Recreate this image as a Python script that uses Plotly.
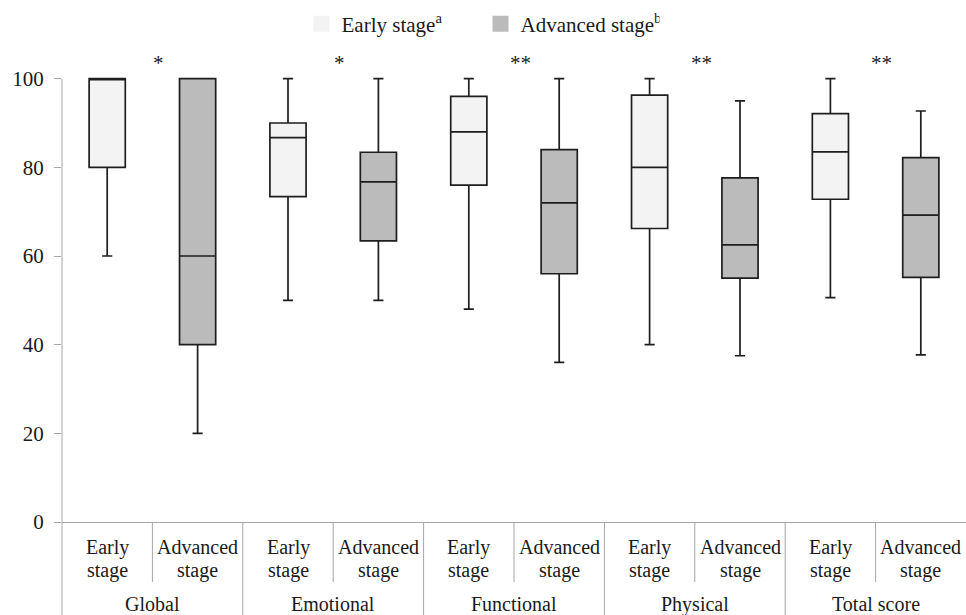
import plotly.graph_objects as go

# ---------------- data ----------------
groups = ["Global", "Emotional", "Functional", "Physical", "Total score"]
stage_names = ["Early stage<sup>a</sup>", "Advanced stage<sup>b</sup>"]
stage_lines = [["Early", "stage"], ["Advanced", "stage"]]
significance = ["*", "*", "**", "**", "**"]
y_ticks = [0, 20, 40, 60, 80, 100]

early_min = [60, 50, 48, 40, 50.6]
early_q1 = [80, 73.4, 76, 66.2, 72.8]
early_median = [100, 86.7, 88, 80, 83.5]
early_q3 = [100, 90, 96, 96.3, 92.1]
early_max = [100, 100, 100, 100, 100]

adv_min = [20, 50, 36, 37.5, 37.7]
adv_q1 = [40, 63.4, 56, 55, 55.2]
adv_median = [60, 76.7, 72, 62.5, 69.2]
adv_q3 = [100, 83.4, 84, 77.6, 82.2]
adv_max = [100, 100, 100, 95, 92.7]

# ---------------- layout geometry ----------------
W, H = 966, 615
ML, MR, MT, MB = 62, 0, 76, 93
PLOT_H = H - MT - MB          # 446
Y_TOP = 100.6
X_MIN, X_MAX = -0.5, 9.5
FONT = "Liberation Serif, Times New Roman, serif"
TXT = "#1a1a1a"
GRAY = "#a6a6a6"
EARLY_FILL = "#f3f3f3"
ADV_FILL = "#bbbbbb"
EDGE = "#1e1e1e"

n = len(groups)
early_x = [2 * i for i in range(n)]
adv_x = [2 * i + 1 for i in range(n)]


def xp(x):
    return (x - X_MIN) / (X_MAX - X_MIN)


def py(px):
    """pixel row -> paper y"""
    return (H - MB - px) / PLOT_H


def yval_paper(v):
    return v / Y_TOP


fig = go.Figure()

box_common = dict(boxpoints=False, width=0.4, whiskerwidth=0.28,
                  line=dict(color=EDGE, width=1.7), showlegend=False,
                  hoverinfo="y")

fig.add_trace(go.Box(x=early_x, q1=early_q1, median=early_median, q3=early_q3,
                     lowerfence=early_min, upperfence=early_max,
                     fillcolor=EARLY_FILL, name="Early stage", **box_common))
fig.add_trace(go.Box(x=adv_x, q1=adv_q1, median=adv_median, q3=adv_q3,
                     lowerfence=adv_min, upperfence=adv_max,
                     fillcolor=ADV_FILL, name="Advanced stage", **box_common))

# legend entries (plain squares)
for name, col in zip(stage_names, [EARLY_FILL, ADV_FILL]):
    fig.add_trace(go.Scatter(x=[None], y=[None], mode="markers", name=name,
                             marker=dict(symbol="square", size=17, color=col,
                                         line=dict(width=0))))

shapes = []
# y axis line (from 100 down to bottom of canvas)
shapes.append(dict(type="line", xref="paper", yref="paper", x0=0, x1=0,
                   y0=yval_paper(100), y1=py(H), line=dict(color=GRAY, width=1)))
# dividers
for i in range(n):
    inner = 2 * i + 0.5
    shapes.append(dict(type="line", xref="paper", yref="paper",
                       x0=xp(inner), x1=xp(inner), y0=0, y1=py(582),
                       line=dict(color=GRAY, width=1)))
    if i > 0:
        outer = 2 * i - 0.5
        shapes.append(dict(type="line", xref="paper", yref="paper",
                           x0=xp(outer), x1=xp(outer), y0=0, y1=py(H),
                           line=dict(color=GRAY, width=1)))

annotations = []
for i in range(n):
    for k, xpos in enumerate([early_x[i], adv_x[i]]):
        for j, word in enumerate(stage_lines[k]):
            annotations.append(dict(x=xp(xpos), y=py(547 + 23 * j), xref="paper",
                                    yref="paper", text=word, showarrow=False,
                                    xanchor="center", yanchor="middle",
                                    font=dict(family=FONT, size=20, color=TXT)))
    annotations.append(dict(x=xp(2 * i + 0.5), y=py(604), xref="paper", yref="paper",
                            text=groups[i], showarrow=False, xanchor="center",
                            yanchor="middle",
                            font=dict(family=FONT, size=20, color=TXT)))
    annotations.append(dict(x=xp(2 * i + 0.57), y=py(63), xref="paper", yref="paper",
                            text=significance[i], showarrow=False, xanchor="center",
                            yanchor="middle",
                            font=dict(family=FONT, size=21, color=TXT)))

fig.update_layout(
    width=W, height=H,
    margin=dict(l=ML, r=MR, t=MT, b=MB, pad=0),
    paper_bgcolor="white", plot_bgcolor="white",
    font=dict(family=FONT, size=21, color=TXT),
    boxmode="overlay",
    xaxis=dict(range=[X_MIN, X_MAX], showgrid=False, zeroline=False,
               showticklabels=False, ticks="", showline=True,
               linecolor=GRAY, linewidth=1, fixedrange=True),
    yaxis=dict(range=[0, Y_TOP], tickvals=y_ticks, ticktext=[str(v) for v in y_ticks],
               showgrid=False, zeroline=False, showline=False,
               ticks="outside", ticklen=7, tickcolor=GRAY, tickwidth=1,
               tickfont=dict(family=FONT, size=21, color=TXT),
               ticklabelstandoff=6, fixedrange=True),
    legend=dict(orientation="h", x=(301.5 - ML) / (W - ML - MR), xanchor="left",
                y=py(24), yanchor="middle", bgcolor="rgba(0,0,0,0)",
                font=dict(family=FONT, size=21, color=TXT),
                entrywidth=134, entrywidthmode="pixels", itemclick=False,
                tracegroupgap=0),
    shapes=shapes,
    annotations=annotations,
)

fig.write_html("out.html",
               config={"displayModeBar": False},
               post_script="document.body.style.margin='0';document.body.style.padding='0';"
                           "document.documentElement.style.overflow='hidden';")
